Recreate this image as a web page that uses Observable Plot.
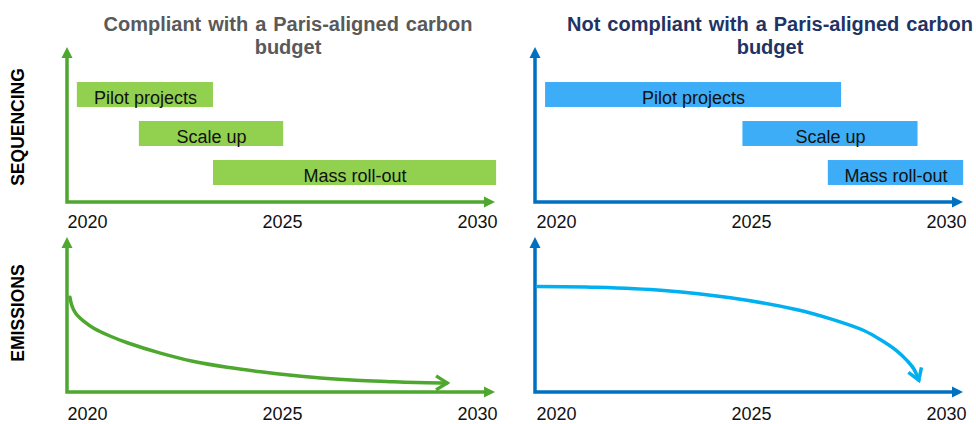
<!DOCTYPE html>
<html><head><meta charset="utf-8">
<script src="https://cdn.jsdelivr.net/npm/d3@7"></script>
<script src="https://cdn.jsdelivr.net/npm/@observablehq/plot@0.6"></script>
<style>
html,body{margin:0;padding:0;background:#fff;}
#chart{position:relative;width:976px;height:424px;overflow:hidden;font-family:"Liberation Sans",Arial,sans-serif;}
.title{position:absolute;top:12.5px;transform:translateX(-50%);text-align:center;white-space:nowrap;font-size:20px;font-weight:bold;line-height:23px;word-spacing:1.4px;}
.rowlabel{position:absolute;transform:translate(-50%,-50%) rotate(-90deg);font-size:17.5px;font-weight:bold;color:#000;white-space:nowrap;line-height:1;}
</style></head><body><div id="chart"></div>
<script>
// ---- data ----
const stages = ["Pilot projects", "Scale up", "Mass roll-out"];
const compliantStart = [2019.74, 2021.33, 2023.23];
const compliantEnd = [2023.23, 2025.03, 2030.49];
const nonCompliantStart = [2019.72, 2024.78, 2026.97];
const nonCompliantEnd = [2027.31, 2029.27, 2030.44];
const tickYears = [2020, 2025, 2030];
const compliantYears = [2019.55, 2019.58, 2019.64, 2019.74, 2019.90, 2020.16, 2020.59, 2021.02, 2021.87, 2022.73, 2023.58, 2024.44, 2025.29, 2026.15, 2027.0, 2027.85, 2028.71, 2029.22];
const compliantEmissions = [61.5, 57.7, 53.5, 49.7, 46.1, 41.5, 36.3, 32.1, 25.4, 20.0, 16.3, 13.4, 11.0, 9.0, 7.7, 6.9, 6.3, 6.2];
const nonCompliantYears = [2019.51, 2021.04, 2022.75, 2024.46, 2026.17, 2027.03, 2027.88, 2028.31, 2028.74, 2028.99, 2029.16, 2029.29];
const nonCompliantEmissions = [68.4, 67.9, 65.8, 61.1, 53.4, 47.5, 40.0, 34.0, 26.6, 20.6, 15.3, 8.0];
const titles = ["Compliant with a Paris-aligned carbon", "budget"];
const titles2 = ["Not compliant with a Paris-aligned carbon", "budget"];
const rowLabels = ["SEQUENCING", "EMISSIONS"];

// ---- styling ----
const FONT = '"Liberation Sans", Arial, sans-serif';
const GREEN_AXIS = "#4EA72E", GREEN_BAR = "#92D050", GREEN_LINE = "#4EA72E";
const BLUE_AXIS = "#0070C0", BLUE_BAR = "#3DADF8", BLUE_LINE = "#00B0F0";
const chart = document.getElementById("chart");

function place(node, left, top) {
  node.style.position = "absolute";
  node.style.left = left + "px";
  node.style.top = top + "px";
  chart.appendChild(node);
}

function axesArrows(color) {
  return (index, scales, values, dimensions) => {
    const {width, height, marginLeft, marginRight, marginTop, marginBottom} = dimensions;
    const x0 = marginLeft, y0 = height - marginBottom, xEnd = width - marginRight, yEnd = marginTop;
    const g = d3.create("svg:g");
    g.append("path").attr("d", `M${x0},${yEnd + 9}V${y0}H${xEnd - 9}`)
      .attr("fill", "none").attr("stroke", color).attr("stroke-width", 3.5).attr("stroke-linejoin", "miter");
    g.append("path").attr("d", `M${xEnd},${y0}L${xEnd - 11},${y0 - 5.5}V${y0 + 5.5}Z`).attr("fill", color);
    g.append("path").attr("d", `M${x0},${yEnd}L${x0 - 5.5},${yEnd + 11}H${x0 + 5.5}Z`).attr("fill", color);
    return g.node();
  };
}

function chevron(color) {
  const m = d3.create("svg:marker")
    .attr("viewBox", "-16 -10 20 20")
    .attr("markerUnits", "userSpaceOnUse")
    .attr("markerWidth", 20).attr("markerHeight", 20)
    .attr("orient", "auto")
    .attr("overflow", "visible");
  m.append("path").attr("d", "M-11,-7L0,0L-11,7")
    .attr("fill", "none").attr("stroke", color).attr("stroke-width", 3.5)
    .attr("stroke-linejoin", "miter").attr("stroke-linecap", "butt");
  return m.node();
}

const baseStyle = {fontFamily: FONT, fontSize: "18px", color: "#111", background: "transparent", overflow: "visible"};

function sequencing({starts, ends, barColor, axisColor, width, marginLeft, marginRight, xRange}) {
  const rows = stages.map((stage, i) => ({stage, start: starts[i], end: ends[i]}));
  return Plot.plot({
    width, height: 230, marginLeft, marginRight, marginTop: 47, marginBottom: 28,
    style: baseStyle,
    x: {domain: [2020, 2030], range: xRange, label: null},
    y: {type: "band", domain: stages, range: [75, 192], paddingInner: 0.36, paddingOuter: 0.18, round: false, axis: null},
    marks: [
      Plot.barX(rows, {x1: "start", x2: "end", y: "stage", fill: barColor}),
      Plot.text(rows, {x: d => (d.start + d.end) / 2, y: "stage", text: "stage", fontSize: 18, fill: "#111", dy: 3}),
      axesArrows(axisColor),
      Plot.axisX(tickYears, {tickSize: 0, tickPadding: 13, fontSize: 18, fill: "#111", tickFormat: d => String(d), label: null})
    ]
  });
}

function emissions({years, values, lineColor, axisColor, width, marginLeft, marginRight, xRange}) {
  const pts = years.map((year, i) => ({year, value: values[i]}));
  const build = (marker) => Plot.plot({
    width, height: 194, marginLeft, marginRight, marginTop: 7, marginBottom: 32,
    style: baseStyle,
    x: {domain: [2020, 2030], range: xRange, label: null},
    y: {domain: [0, 100], axis: null},
    marks: [
      axesArrows(axisColor),
      Plot.line(pts, {x: "year", y: "value", stroke: lineColor, strokeWidth: 3.5, curve: "catmull-rom", markerEnd: marker}),
      Plot.axisX(tickYears, {tickSize: 0, tickPadding: 15, fontSize: 18, fill: "#111", tickFormat: d => String(d), label: null})
    ]
  });
  try { return build(chevron); } catch (e) { return build("arrow"); }
}

const LEFT = {width: 496, marginLeft: 67, marginRight: 1, xRange: [87, 477]};
const RIGHT = {width: 480, marginLeft: 39, marginRight: 13, xRange: [60, 450]};

place(sequencing({...LEFT, starts: compliantStart, ends: compliantEnd, barColor: GREEN_BAR, axisColor: GREEN_AXIS}), 0, 0);
place(sequencing({...RIGHT, starts: nonCompliantStart, ends: nonCompliantEnd, barColor: BLUE_BAR, axisColor: BLUE_AXIS}), 496, 0);
place(emissions({...LEFT, years: compliantYears, values: compliantEmissions, lineColor: GREEN_LINE, axisColor: GREEN_AXIS}), 0, 230);
place(emissions({...RIGHT, years: nonCompliantYears, values: nonCompliantEmissions, lineColor: BLUE_LINE, axisColor: BLUE_AXIS}), 496, 230);

function addTitle(lines, x, color) {
  const d = document.createElement("div");
  d.className = "title";
  d.style.left = x + "px";
  d.style.color = color;
  lines.forEach((t, i) => { if (i) d.appendChild(document.createElement("br")); d.appendChild(document.createTextNode(t)); });
  chart.appendChild(d);
}
addTitle(titles, 288, "#595959");
addTitle(titles2, 770, "#1F3464");

function addRowLabel(text, x, y) {
  const d = document.createElement("div");
  d.className = "rowlabel";
  d.style.left = x + "px";
  d.style.top = y + "px";
  d.textContent = text;
  chart.appendChild(d);
}
addRowLabel(rowLabels[0], 19, 127);
addRowLabel(rowLabels[1], 19, 313);
</script></body></html>
